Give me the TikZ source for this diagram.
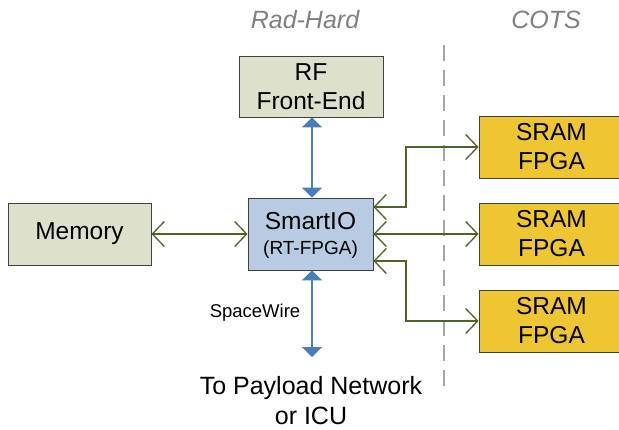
\documentclass[tikz,border=0pt]{standalone}
\usepackage{fontspec}
\setmainfont{Liberation Sans}
\usetikzlibrary{arrows.meta}
\definecolor{boxgreen}{HTML}{DDE1CB}
\definecolor{boxblue}{HTML}{B9CBE3}
\definecolor{boxyellow}{HTML}{EDC631}
\definecolor{arrgreen}{HTML}{4F6228}
\definecolor{arrblue}{HTML}{4A7EBB}
\definecolor{edgegray}{HTML}{404040}
\definecolor{labgray}{HTML}{7F7F7F}
\begin{document}
\begin{tikzpicture}[x=1pt,y=-1pt,
  blk/.style={draw=edgegray,line width=0.8pt,inner sep=0pt,align=center,font=\fontsize{24.5}{29}\selectfont},
  garr/.style={draw=arrgreen,line width=1.3pt,{Straight Barb[length=12pt,width=25pt,line width=1.3pt]}-{Straight Barb[length=12pt,width=25pt,line width=1.3pt]}},
  barr/.style={draw=arrblue,line width=1.8pt,{Triangle[length=10pt,width=20pt]}-{Triangle[length=10pt,width=20pt]}},
  hdr/.style={text=labgray,font=\itshape\fontsize{25}{29}\selectfont}]
\useasboundingbox (0,0) rectangle (619,429);
% boxes
\node[blk,fill=boxgreen,minimum width=144pt,minimum height=61pt] (rf) at (311,86.5) {RF\\Front-End};
\node[blk,fill=boxgreen,minimum width=143pt,minimum height=62pt] (mem) at (79.5,234) {Memory};
\node[blk,fill=boxblue,minimum width=125pt,minimum height=72pt] (sio) at (310.5,234) {};
\node[font=\fontsize{24.5}{29}\selectfont] (siot) at (310.5,221) {SmartIO};
\node[font=\fontsize{19}{22}\selectfont] (siof) at (310.5,250) {(RT-FPGA)};
\node[blk,fill=boxyellow,minimum width=145pt,minimum height=62pt] (s1) at (551.5,147) {SRAM\\FPGA};
\node[blk,fill=boxyellow,minimum width=145pt,minimum height=62pt] (s2) at (551.5,234) {SRAM\\FPGA};
\node[blk,fill=boxyellow,minimum width=145pt,minimum height=62pt] (s3) at (551.5,321) {SRAM\\FPGA};
% headers
\node[hdr] (rh) at (305,20) {Rad-Hard};
\node[hdr] (cots) at (546,20) {COTS};
% dashed divider
\coordinate (dtop) at (444,45);
\coordinate (dbot) at (444,388);
\draw[labgray!70,line width=1.5pt,dash pattern=on 16pt off 9pt] (dtop) -- (dbot);
% green connectors
\draw[garr] (mem.east) -- (sio.west);
\coordinate (j1) at (406,207);
\coordinate (j3) at (406,261);
\draw[garr] (sio.east |- j1) -- (j1) |- (s1.west);
\draw[garr] (sio.east) -- (s2.west);
\draw[garr] (sio.east |- j3) -- (j3) |- (s3.west);
% blue connectors
\draw[barr] (rf.south -| 312,0) -- (sio.north -| 312,0);
\coordinate (bend) at (312,357);
\draw[barr] (sio.south -| bend) -- (bend);
\node[font=\fontsize{18.5}{22}\selectfont] (sw) at (255,313) {SpaceWire};
\node[align=center,font=\fontsize{25}{30}\selectfont] (pay) at (311,401) {To Payload Network\\or ICU};
\end{tikzpicture}
\end{document}
